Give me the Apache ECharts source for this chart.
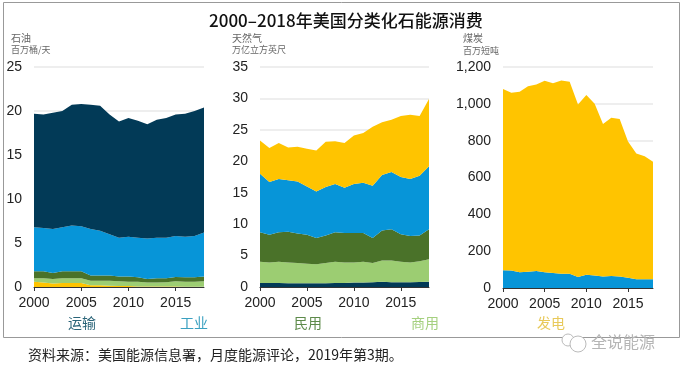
<!DOCTYPE html>
<html>
<head>
<meta charset="utf-8">
<style>html,body{margin:0;padding:0;background:#fff}#main{width:684px;height:371px}</style>
<script src="https://cdn.jsdelivr.net/npm/echarts@6/dist/echarts.min.js"></script>
</head>
<body>
<div id="main"></div>
<script>
const years = ['2000','2001','2002','2003','2004','2005','2006','2007','2008','2009','2010','2011','2012','2013','2014','2015','2016','2017','2018'];

// 石油，百万桶/天
const oilElectric = [0.6,0.5,0.4,0.45,0.45,0.45,0.2,0.2,0.15,0.1,0.1,0.07,0.05,0.05,0.05,0.05,0.04,0.03,0.03];
const oilCommercial = [0.4,0.5,0.5,0.55,0.55,0.55,0.5,0.5,0.55,0.55,0.5,0.53,0.45,0.45,0.5,0.6,0.56,0.57,0.62];
const oilResidential = [0.8,0.8,0.7,0.8,0.8,0.8,0.6,0.6,0.6,0.55,0.6,0.5,0.4,0.5,0.45,0.5,0.5,0.5,0.55];
const oilIndustrial = [5.0,4.9,5.0,5.0,5.2,5.1,5.3,5.1,4.7,4.4,4.5,4.5,4.6,4.6,4.6,4.65,4.6,4.7,5.0];
const oilTransport = [12.9,12.9,13.2,13.2,13.7,13.9,14.1,14.2,13.6,13.2,13.5,13.3,13.0,13.4,13.6,13.8,14.0,14.2,14.2];

// 天然气，万亿立方英尺
const gasTransport = [0.65,0.65,0.65,0.6,0.6,0.6,0.6,0.6,0.65,0.65,0.7,0.7,0.75,0.85,0.75,0.75,0.75,0.8,0.85];
const gasCommercial = [3.35,3.25,3.35,3.3,3.2,3.1,3.0,3.2,3.35,3.25,3.2,3.3,3.05,3.35,3.45,3.25,3.15,3.3,3.55];
const gasResidential = [4.7,4.4,4.7,4.9,4.7,4.6,4.2,4.4,4.7,4.7,4.7,4.6,4.0,4.8,5.0,4.4,4.2,4.1,4.8];
const gasIndustrial = [9.3,8.4,8.5,8.2,8.3,7.7,7.4,7.7,7.7,7.2,7.8,8.0,8.3,8.8,9.1,9.1,9.1,9.5,10.0];
const gasElectric = [5.3,5.4,5.7,5.2,5.5,6.0,6.5,7.2,6.8,7.1,7.7,7.9,9.4,8.4,8.3,9.7,10.2,9.5,10.7];

// 煤炭，百万短吨
const coalIndustrial = [97,95,85,88,92,85,82,78,77,60,72,68,62,65,62,55,48,48,47];
const coalElectric = [983,965,980,1007,1013,1040,1030,1049,1043,937,976,932,828,860,856,740,682,667,638];

const navy = '#023a57', blue = '#0795d8', darkGreen = '#4a7229', lightGreen = '#9ccd72', yellow = '#ffc400';
const cjk = '"Noto Sans CJK SC"';

function area(name, idx, data, color) {
  return {
    name: name, type: 'line', stack: 'g' + idx, xAxisIndex: idx, yAxisIndex: idx,
    data: data, symbol: 'none', smooth: false,
    lineStyle: { width: 0 }, areaStyle: { color: color, opacity: 1 }
  };
}

function xAxis(idx) {
  return {
    type: 'category', gridIndex: idx, data: years, boundaryGap: false,
    axisLine: { lineStyle: { color: '#333', width: 1 } },
    axisTick: { interval: 4, length: 4, lineStyle: { color: '#333' } },
    axisLabel: { interval: 4, color: '#222', fontFamily: 'Liberation Sans', fontSize: 14, margin: 9, hideOverlap: false }
  };
}

function yAxis(idx, max, interval, fmt) {
  return {
    type: 'value', gridIndex: idx, min: 0, max: max, interval: interval,
    axisLine: { show: false }, axisTick: { show: false },
    splitLine: { lineStyle: { color: '#e8e8e8', width: 1.5 } },
    axisLabel: { color: '#222', fontFamily: 'Liberation Sans', fontSize: 14, margin: 12, formatter: fmt }
  };
}

function label(text, left, top, size, color, weight) {
  return { text: text, left: left, top: top, padding: 0,
    textStyle: { fontFamily: cjk, fontSize: size, color: color, fontWeight: weight || 'normal' } };
}

const chart = echarts.init(document.getElementById('main'), null, { renderer: 'canvas' });
chart.setOption({
  animation: false,
  backgroundColor: '#fff',
  title: [
    label('2000–2018年美国分类化石能源消费', 209, 12, 17, '#111', 500),
    label('石油', 11, 33, 10, '#666'),
    label('百万桶/天', 11, 45, 9, '#666'),
    label('天然气', 232, 33, 10, '#666'),
    label('万亿立方英尺', 232, 45, 9, '#666'),
    label('煤炭', 463, 33, 10, '#666'),
    label('百万短吨', 463, 46, 9, '#666'),
    label('运输', 68, 316, 14, '#2a6478'),
    label('工业', 180, 316, 14, '#3aa0c0'),
    label('民用', 294, 316, 14, '#5d8a4a'),
    label('商用', 411, 316, 14, '#a5d07f'),
    label('发电', 537, 316, 14, '#e8c95a'),
    label('资料来源：美国能源信息署，月度能源评论，2019年第3期。', 28, 348, 14, '#222'),
    label('全说能源', 591, 334, 16, '#b5b5b5')
  ],
  graphic: [
    { type: 'rect', z: 0, shape: { x: 3.5, y: 2.5, width: 676, height: 335 }, style: { fill: 'none', stroke: '#999', lineWidth: 1 } },
    { type: 'circle', z: 10, shape: { cx: 568, cy: 340, r: 6 }, style: { fill: '#fff', stroke: '#bbb', lineWidth: 1 } },
    { type: 'circle', z: 10, shape: { cx: 578, cy: 344, r: 8 }, style: { fill: '#fff', stroke: '#bbb', lineWidth: 1 } }
  ],
  grid: [
    { left: 34, right: 480, top: 67, bottom: 84 },
    { left: 260, right: 255, top: 67, bottom: 84 },
    { left: 503, right: 31, top: 67, bottom: 83 }
  ],
  xAxis: [xAxis(0), xAxis(1), xAxis(2)],
  yAxis: [
    yAxis(0, 25, 5),
    yAxis(1, 35, 5),
    yAxis(2, 1200, 200, function (v) { return v >= 1000 ? String(v).replace(/(\d)(\d{3})$/, '$1,$2') : v; })
  ],
  series: [
    area('发电', 0, oilElectric, yellow),
    area('商用', 0, oilCommercial, lightGreen),
    area('民用', 0, oilResidential, darkGreen),
    area('工业', 0, oilIndustrial, blue),
    area('运输', 0, oilTransport, navy),
    area('运输', 1, gasTransport, navy),
    area('商用', 1, gasCommercial, lightGreen),
    area('民用', 1, gasResidential, darkGreen),
    area('工业', 1, gasIndustrial, blue),
    area('发电', 1, gasElectric, yellow),
    area('工业', 2, coalIndustrial, blue),
    area('发电', 2, coalElectric, yellow)
  ]
});
</script>
</body>
</html>
